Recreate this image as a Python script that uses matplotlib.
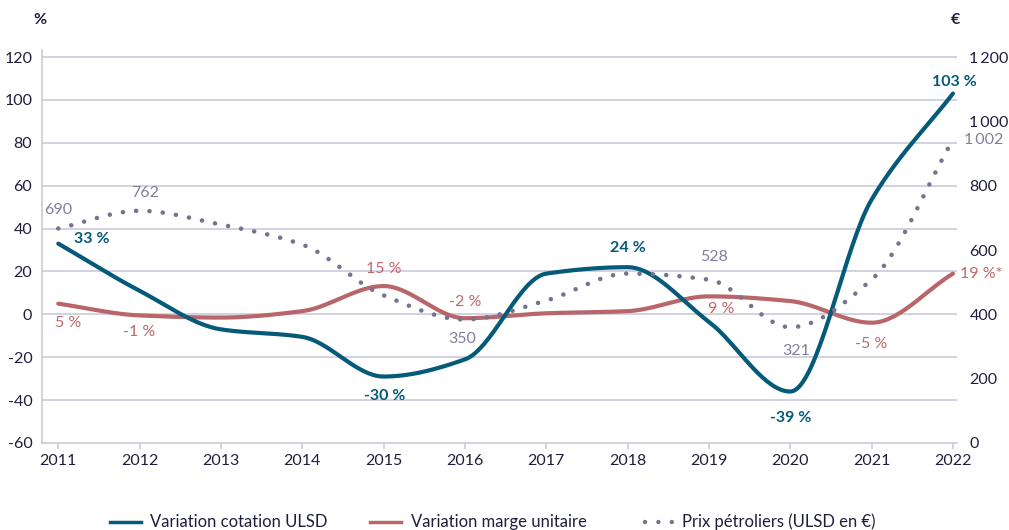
import numpy as np
import matplotlib
matplotlib.use("Agg")
import matplotlib.pyplot as plt
from matplotlib.lines import Line2D

plt.rcParams['font.family'] = ['Lato', 'DejaVu Sans']

# ---------------- data ----------------
years = [2011, 2012, 2013, 2014, 2015, 2016, 2017, 2018, 2019, 2020, 2021, 2022]
ulsd_var = [33, 11, -7, -10.5, -29, -21, 19, 22, -3.5, -36, 53.5, 103]        # % (left axis)
marge_var = [5, -0.5, -1.5, 1.5, 13.2, -1.8, 0.5, 1.5, 8.4, 6.2, -3.9, 19]     # % (left axis)
prix_ulsd = [667, 722, 679, 617, 459, 384, 443, 527, 508, 360, 508, 943]      # € (right axis)

ulsd_labels = {2011: "33 %", 2015: "-30 %", 2018: "24 %", 2020: "-39 %", 2022: "103 %"}
marge_labels = {2011: "5 %", 2012: "-1 %", 2015: "15 %", 2016: "-2 %", 2019: "9 %",
                2021: "-5 %", 2022: "19 %*"}
prix_labels = {2011: "690", 2012: "762", 2016: "350", 2019: "528", 2020: "321", 2022: "1\u2009002"}

left_ticks = [-60, -40, -20, 0, 20, 40, 60, 80, 100, 120]
right_ticks = [0, 200, 400, 600, 800, 1000, 1200]
right_tick_labels = ["0", "200", "400", "600", "800", "1\u2009000", "1\u2009200"]
legend_labels = ["Variation cotation ULSD", "Variation marge unitaire", "Prix pétroliers (ULSD en €)"]

# ---------------- colours ----------------
C_BLUE = "#045a78"
C_RED = "#b8666a"
C_RED_TXT = "#c0676b"
C_DOT = "#74748f"
C_DOT_TXT = "#80809a"
C_GRID = "#c9c9dc"
C_TXT = "#1f1f3d"


def pchip(x, y, n=400):
    x = np.asarray(x, float)
    y = np.asarray(y, float)
    h = np.diff(x)
    d = np.diff(y) / h
    m = np.zeros_like(y)
    for i in range(1, len(y) - 1):
        if d[i - 1] * d[i] <= 0:
            m[i] = 0
        else:
            w1 = 2 * h[i] + h[i - 1]
            w2 = h[i] + 2 * h[i - 1]
            m[i] = (w1 + w2) / (w1 / d[i - 1] + w2 / d[i])
    m[0] = d[0]
    m[-1] = d[-1]
    xs = np.linspace(x[0], x[-1], n)
    idx = np.clip(np.searchsorted(x, xs) - 1, 0, len(x) - 2)
    t = (xs - x[idx]) / h[idx]
    h00 = 2 * t**3 - 3 * t**2 + 1
    h10 = t**3 - 2 * t**2 + t
    h01 = -2 * t**3 + 3 * t**2
    h11 = t**3 - t**2
    ys = h00 * y[idx] + h10 * h[idx] * m[idx] + h01 * y[idx + 1] + h11 * h[idx] * m[idx + 1]
    return xs, ys


fig = plt.figure(figsize=(10.09, 5.30), dpi=100)
ax = fig.add_axes([42 / 1009, 1 - 443 / 530, (957 - 42) / 1009, (443 - 50) / 530])
ax2 = ax.twinx()

ymin, ymax = -60, 123.3
ax.set_ylim(ymin, ymax)
ax2.set_ylim((ymin + 60) * 1200 / 180, (ymax + 60) * 1200 / 180)
ax.set_xlim(2010.8, 2022.05)

# grid
for v in left_ticks[1:]:
    ax.axhline(v, color=C_GRID, lw=1.2, zorder=0)

# lines
xs, ys = pchip(years, marge_var)
ax.plot(xs, ys, color=C_RED, lw=3.0, solid_capstyle='round', zorder=3)
xs, ys = pchip(years, ulsd_var)
ax.plot(xs, ys, color=C_BLUE, lw=3.0, solid_capstyle='round', zorder=4)
xs, ys = pchip(years, prix_ulsd)
ax2.plot(xs, ys, color=C_DOT, lw=3.3, linestyle=(0, (0.01, 2.9)), dash_capstyle='round', zorder=2)

# axes styling
for a in (ax, ax2):
    for s in ['top', 'right']:
        a.spines[s].set_visible(False)
ax2.spines['left'].set_visible(False)
ax2.spines['bottom'].set_visible(False)
ax.spines['left'].set_color(C_GRID)
ax.spines['bottom'].set_color(C_GRID)
ax.spines['left'].set_linewidth(1.2)
ax.spines['bottom'].set_linewidth(1.2)

ax.set_yticks(left_ticks)
ax.set_yticklabels([str(v) for v in left_ticks])
ax.tick_params(axis='y', length=0, pad=7, labelsize=11.5, labelcolor=C_TXT)
ax.set_xticks(years)
ax.set_xticklabels([str(y) for y in years])
ax.tick_params(axis='x', length=4, width=1.2, color=C_GRID, pad=4, labelsize=11.5, labelcolor=C_TXT)
ax2.set_yticks(right_ticks)
ax2.set_yticklabels(right_tick_labels)
ax2.tick_params(axis='y', length=0, pad=9, labelsize=11.5, labelcolor=C_TXT)

fig.text(40 / 1009, 1 - 20 / 530, "%", ha='center', va='center', fontsize=11.5,
         color=C_TXT, fontweight='bold')
fig.text(955 / 1009, 1 - 20 / 530, "€", ha='center', va='center', fontsize=11.5,
         color=C_TXT, fontweight='bold')

# data labels (offsets in points)
yi = {y: i for i, y in enumerate(years)}
ulsd_off = {2011: (24, 3), 2015: (1, -14), 2018: (0, 14), 2020: (0, -19), 2022: (1, 8)}
for yr, txt in ulsd_labels.items():
    dx, dy = ulsd_off[yr]
    ax.annotate(txt, (yr, ulsd_var[yi[yr]]), xytext=(dx, dy), textcoords='offset points',
                ha='center', va='center', fontsize=11.5, fontweight='bold', color=C_BLUE, zorder=6)

marge_off = {2011: (7, -14), 2012: (0, -12), 2015: (0, 12), 2016: (0, 12), 2019: (9, -9),
             2021: (0, -15), 2022: (20, 0)}
for yr, txt in marge_labels.items():
    dx, dy = marge_off[yr]
    ax.annotate(txt, (yr, marge_var[yi[yr]]), xytext=(dx, dy), textcoords='offset points',
                ha='center', va='center', fontsize=11.5, color=C_RED_TXT, zorder=6)

prix_off = {2011: (0, 13), 2012: (4, 13), 2016: (-2, -14), 2019: (4, 16), 2020: (4, -17),
            2022: (22, 0)}
for yr, txt in prix_labels.items():
    dx, dy = prix_off[yr]
    ax2.annotate(txt, (yr, prix_ulsd[yi[yr]]), xytext=(dx, dy), textcoords='offset points',
                 ha='center', va='center', fontsize=11.5, color=C_DOT_TXT, zorder=6)

# legend (manual)
ly = 1 - 522 / 530
fig.add_artist(Line2D([110 / 1009, 141 / 1009], [ly, ly], color=C_BLUE, lw=2.5,
                      transform=fig.transFigure))
fig.text(150 / 1009, ly, legend_labels[0], ha='left', va='center', fontsize=12, color=C_TXT)
fig.add_artist(Line2D([370 / 1009, 401 / 1009], [ly, ly], color=C_RED, lw=2.5,
                      transform=fig.transFigure))
fig.text(411 / 1009, ly, legend_labels[1], ha='left', va='center', fontsize=12, color=C_TXT)
fig.add_artist(Line2D([645 / 1009, 672 / 1009], [ly, ly], color=C_DOT, lw=3.2,
                      linestyle=(0, (0.01, 3.0)), dash_capstyle='round',
                      transform=fig.transFigure))
fig.text(682 / 1009, ly, legend_labels[2], ha='left', va='center', fontsize=12, color=C_TXT)

fig.savefig("out.png", dpi=100)
